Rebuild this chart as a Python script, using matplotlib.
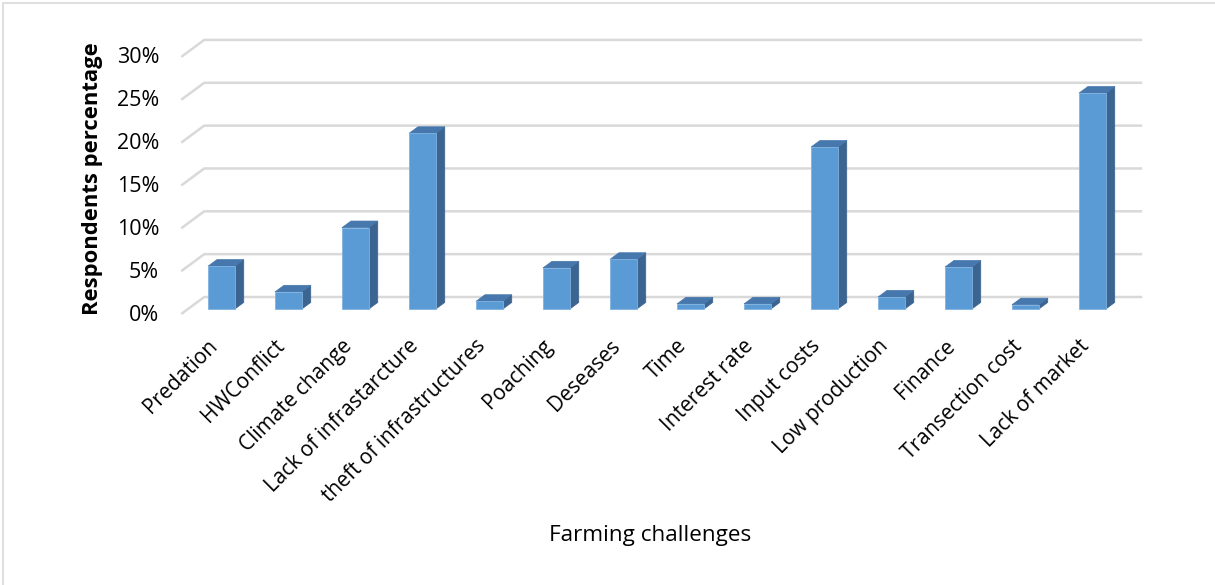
import matplotlib.pyplot as plt
from matplotlib.patches import Polygon
from matplotlib.transforms import offset_copy
import numpy as np

plt.rcParams['font.family'] = ['Open Sans', 'DejaVu Sans']

# survey results ------------------------------------------------
challenges = ['Predation', 'HWConflict', 'Climate change', 'Lack of infrastarcture',
              'theft of infrastructures', 'Poaching', 'Deseases', 'Time',
              'Interest rate', 'Input costs', 'Low production', 'Finance',
              'Transection cost', 'Lack of market']
percent = [5.0, 2.0, 9.5, 20.5, 0.9, 4.8, 5.8, 0.6, 0.6, 18.9, 1.4, 4.9, 0.5, 25.2]
yticks = [0, 5, 10, 15, 20, 25, 30]
# ----------------------------------------------------------------

W, H, DPI = 1215, 585, 100
fig = plt.figure(figsize=(W / DPI, H / DPI), dpi=DPI)
fig.patch.set_facecolor('white')

# axes box in pixels (left, top, right, bottom)
L, T, R, B = 150, 20, 1170, 330
ax = fig.add_axes([L / W, 1 - B / H, (R - L) / W, (B - T) / H])
ax.set_xlim(-0.966, 14.258)
ax.set_ylim(-1.867, 34.31)
ax.axis('off')

# oblique depth: moving from the front of the floor to the back wall
px_x = (14.258 + 0.966) / (R - L)
px_y = (34.31 + 1.867) / (B - T)
DX, DY = 23 * px_x, 17 * px_y


def proj(x, y, d):
    return (x + d * DX, y + d * DY)


grid_kw = dict(color='#d9d9d9', lw=1.8, zorder=1, solid_capstyle='butt')
x_left, x_right = -0.5, len(challenges) - 0.5
for p in yticks:
    xa, ya = proj(x_left, p, 0)
    xb, yb = proj(x_left, p, 1)
    xc, yc = proj(x_right, p, 1)
    ax.plot([xa, xb, xc], [ya, yb, yc], **grid_kw)

# value axis labels
tick_tr = offset_copy(ax.transData, fig=fig, x=-22, y=-1, units='dots')
for p in yticks:
    ax.text(x_left, p, f'{p}%', transform=tick_tr, ha='right', va='center',
            fontsize=15.5, color='#000000')

# 3D-looking columns
front_c, top_c, side_c = '#5b9bd5', '#4677ad', '#3b6590'
bw, d0, d1 = 0.2, 0.29, 0.68
for i, v in enumerate(percent):
    fl = proj(i - bw, 0, d0)
    fr = proj(i + bw, 0, d0)
    tl = proj(i - bw, v, d0)
    tr = proj(i + bw, v, d0)
    btl = proj(i - bw, v, d1)
    btr = proj(i + bw, v, d1)
    bbr = proj(i + bw, 0, d1)
    ax.add_patch(Polygon([fr, bbr, btr, tr], closed=True, fc=side_c, ec=side_c, lw=0.5, zorder=3))
    ax.add_patch(Polygon([tl, tr, btr, btl], closed=True, fc=top_c, ec=top_c, lw=0.5, zorder=3))
    ax.add_patch(Polygon([fl, fr, tr, tl], closed=True, fc=front_c, ec='#7fb2e0', lw=0.6, zorder=4))

# category labels, rotated 45 degrees
lab_tr = offset_copy(ax.transData, fig=fig, x=0, y=-29, units='dots')
for i, name in enumerate(challenges):
    x, y = proj(i, 0, 0)
    ax.text(x, y, name, transform=lab_tr, rotation=45, rotation_mode='anchor',
            ha='right', va='center', fontsize=15, color='#000000')

fig.text(650 / W, 1 - 535 / H, 'Farming challenges', ha='center', va='center',
         fontsize=16.2, color='#000000')
fig.text(93 / W, 1 - 179 / H, 'Respondents percentage', rotation=90, ha='center',
         va='center', fontsize=15.8, fontweight='bold', color='#000000')

# thin chart-area border
fig.add_artist(plt.Rectangle((3 / W, -0.1), 1.2, 1 - 3 / H + 0.1, transform=fig.transFigure,
                             fill=False, ec='#d9d9d9', lw=1.2))

fig.savefig('out.png', dpi=DPI, facecolor='white')
